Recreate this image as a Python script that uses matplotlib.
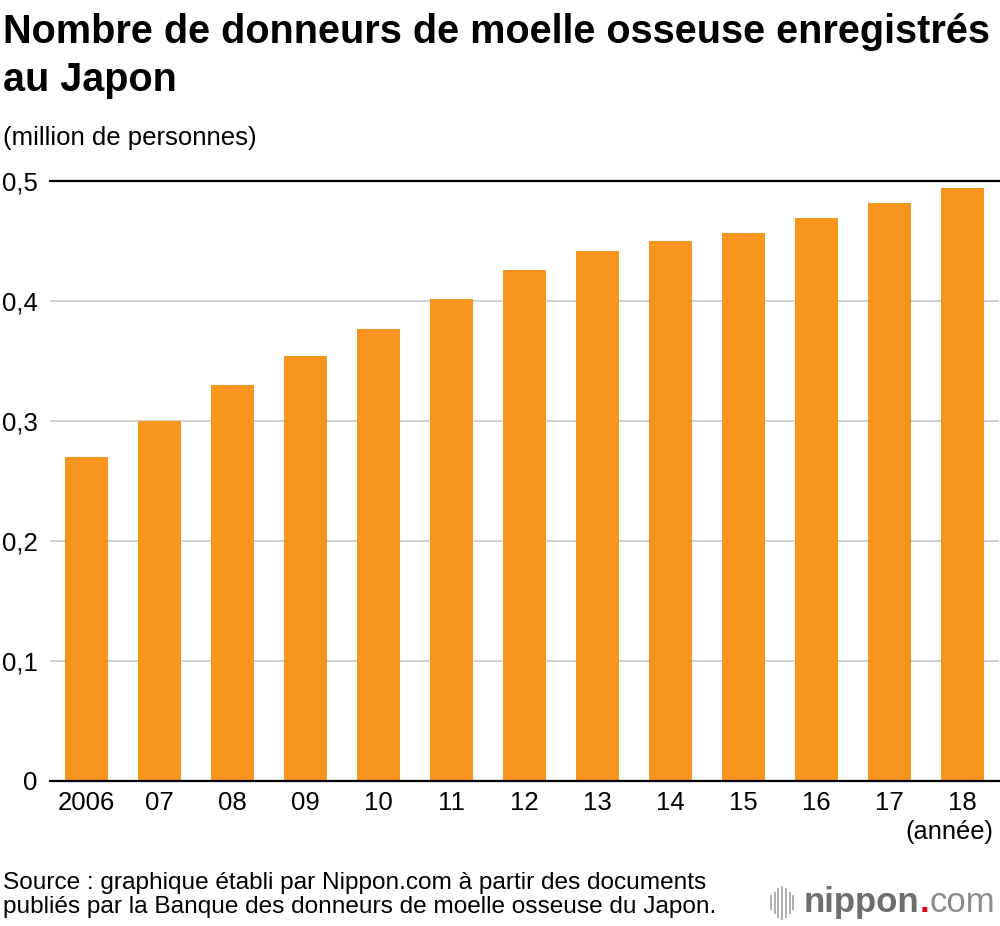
import matplotlib
matplotlib.use("Agg")
import matplotlib.pyplot as plt

plt.rcParams["font.family"] = ["Liberation Sans", "DejaVu Sans"]

# donnees
annees = ["2006", "07", "08", "09", "10", "11", "12", "13", "14", "15", "16", "17", "18"]
donneurs = [0.270, 0.300, 0.330, 0.354, 0.377, 0.402, 0.426, 0.442, 0.450, 0.457, 0.469, 0.482, 0.494]
yticks = [0, 0.1, 0.2, 0.3, 0.4, 0.5]
ylabels = ["0", "0,1", "0,2", "0,3", "0,4", "0,5"]

ORANGE = "#F7941E"

fig = plt.figure(figsize=(10, 9.26), dpi=100)
ax = fig.add_axes([0.05, 1 - 781 / 926, 0.949, 600 / 926])

x = range(len(annees))
ax.bar(x, donneurs, width=0.6, color=ORANGE, zorder=2)
ax.set_xlim(-0.5, len(annees) - 0.5)
ax.set_ylim(0, 0.5)

for v in yticks[1:-1]:
    ax.axhline(v, color="#c8c8c8", lw=1.2, zorder=1)
ax.axhline(0.5, color="black", lw=1.6, zorder=3, clip_on=False)
ax.axhline(0, color="black", lw=1.6, zorder=3, clip_on=False)

for s in ax.spines.values():
    s.set_visible(False)
ax.set_yticks(yticks)
ax.set_yticklabels(ylabels, fontsize=18.5)
ax.set_xticks(list(x))
ax.set_xticklabels(annees, fontsize=18.5)
ax.tick_params(axis="both", length=0)
ax.tick_params(axis="y", pad=8.8)
ax.tick_params(axis="x", pad=7)

fig.text(0.003, 0.986, "Nombre de donneurs de moelle osseuse enregistrés\nau Japon",
         fontsize=28.5, fontweight="bold", va="top", ha="left", linespacing=1.35)
fig.text(0.003, 0.851, "(million de personnes)", fontsize=18.5, va="center", ha="left")
fig.text(0.993, 0.101, "(année)", fontsize=18.3, va="center", ha="right")

fig.text(0.003, 0.009, "Source : graphique établi par Nippon.com à partir des documents\n"
         "publiés par la Banque des donneurs de moelle osseuse du Japon.",
         fontsize=17.6, va="bottom", ha="left", linespacing=1.08)

# logo nippon.com
ly = 0.025
for i, h in enumerate([0.014, 0.022, 0.03, 0.034, 0.03, 0.022, 0.014]):
    xl = 0.771 + i * 0.0037
    fig.add_artist(plt.Line2D([xl, xl], [ly - h / 2, ly + h / 2],
                              color="#a8a8a8", lw=1.3))
t1 = fig.text(0.804, ly, "nippon", fontsize=25, fontweight="bold",
              color="#6e6e6e", va="center", ha="left")
fig.canvas.draw()
bb = t1.get_window_extent().transformed(fig.transFigure.inverted())
t2 = fig.text(bb.x1, ly, ".", fontsize=25, color="#e60012",
              va="center", ha="left", fontweight="bold")
bb2 = t2.get_window_extent().transformed(fig.transFigure.inverted())
fig.text(bb2.x1, ly, "com", fontsize=25, color="#8c8c8c", va="center", ha="left")

fig.savefig("out.png", dpi=100)
